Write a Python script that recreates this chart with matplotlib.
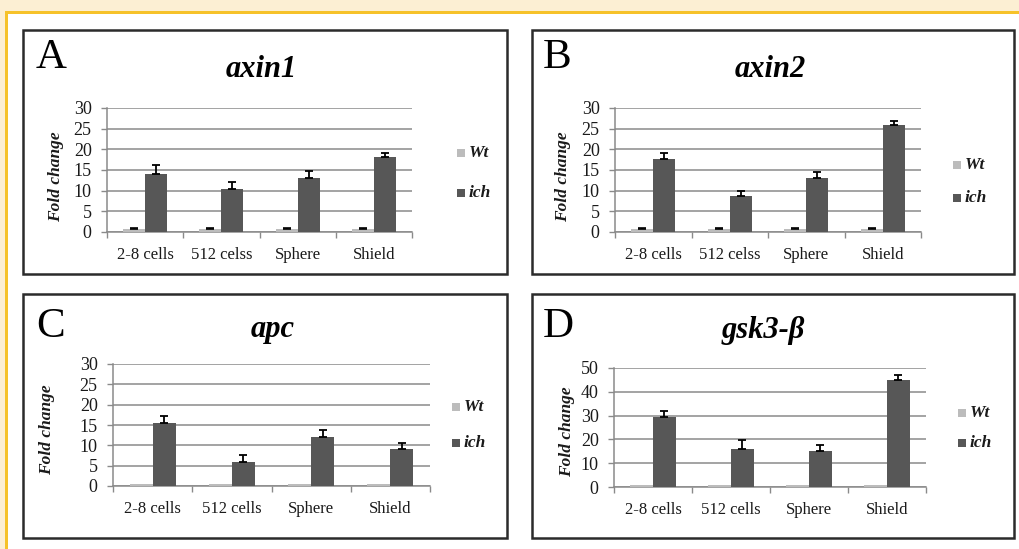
import numpy as np
import matplotlib
matplotlib.use("Agg")
import matplotlib.pyplot as plt
from matplotlib.patches import Rectangle

# ---------------- data ----------------
stages_ab = ["2-8 cells", "512 celss", "Sphere", "Shield"]
stages_cd = ["2-8 cells", "512 cells", "Sphere", "Shield"]

axin1_wt = [0.8, 0.8, 0.8, 0.8]
axin1_wt_err = [0.2, 0.2, 0.2, 0.2]
axin1_ich = [14.0, 10.3, 13.1, 18.1]
axin1_ich_err = [2.2, 1.7, 1.7, 0.9]

axin2_wt = [0.8, 0.8, 0.8, 0.8]
axin2_wt_err = [0.2, 0.2, 0.2, 0.2]
axin2_ich = [17.7, 8.7, 13.1, 26.0]
axin2_ich_err = [1.3, 1.3, 1.3, 0.9]

apc_wt = [0.6, 0.6, 0.6, 0.6]
apc_wt_err = [0.0, 0.0, 0.0, 0.0]
apc_ich = [15.4, 5.8, 12.0, 9.2]
apc_ich_err = [1.8, 1.9, 1.8, 1.3]

gsk_wt = [1.0, 1.0, 1.0, 1.0]
gsk_wt_err = [0.0, 0.0, 0.0, 0.0]
gsk_ich = [29.5, 16.0, 15.3, 45.1]
gsk_ich_err = [2.3, 3.6, 2.2, 2.1]

series_labels = ["Wt", "ich"]

# ---------------- style ----------------
W, H = 1019, 549
DPI = 100
SERIF = ["Liberation Serif", "DejaVu Serif"]
plt.rcParams["font.family"] = SERIF
WT_COLOR = "#bcbcbc"
ICH_COLOR = "#575757"
GRID = "#8a8a8a"
TXT = "#1a1a1a"

fig = plt.figure(figsize=(W / DPI, H / DPI), dpi=DPI)
fig.patch.set_facecolor("white")


def fx(px):
    return px / W


def fy(py):
    return 1 - py / H


def rect_px(x0, y0, x1, y1, **kw):
    fig.add_artist(Rectangle((fx(x0), fy(y1)), fx(x1) - fx(x0), fy(y0) - fy(y1),
                             transform=fig.transFigure, **kw))


# page background bands
rect_px(0, 0, W, 11, facecolor="#fcefd3", edgecolor="none", zorder=0)
rect_px(0, 0, 5, H, facecolor="#fcefd3", edgecolor="none", zorder=0)
rect_px(5, 11, W, 13.5, facecolor="#f6c22a", edgecolor="none", zorder=1)
rect_px(5, 11, 7.5, H, facecolor="#f6c22a", edgecolor="none", zorder=1)

panels = [
    dict(letter="A", title="axin1", cats=stages_ab, wt=axin1_wt, wte=axin1_wt_err,
         ich=axin1_ich, iche=axin1_ich_err, ymax=30, ystep=5,
         box=(23, 30, 507, 274), ax=(107, 108, 412, 232),
         letter_xy=(36, 68), title_xy=(261, 77), ylab_xy=(56, 177),
         leg=(461, 153, 193)),
    dict(letter="B", title="axin2", cats=stages_ab, wt=axin2_wt, wte=axin2_wt_err,
         ich=axin2_ich, iche=axin2_ich_err, ymax=30, ystep=5,
         box=(532, 30, 1014, 274), ax=(615, 108, 921, 232),
         letter_xy=(543, 68), title_xy=(770, 77), ylab_xy=(563, 177),
         leg=(957, 165, 198)),
    dict(letter="C", title="apc", cats=stages_cd, wt=apc_wt, wte=apc_wt_err,
         ich=apc_ich, iche=apc_ich_err, ymax=30, ystep=5,
         box=(23, 294, 507, 538), ax=(113, 364, 430, 486),
         letter_xy=(36, 337), title_xy=(273, 337), ylab_xy=(47, 430),
         leg=(456, 407, 443)),
    dict(letter="D", title="gsk3-β", cats=stages_cd, wt=gsk_wt, wte=gsk_wt_err,
         ich=gsk_ich, iche=gsk_ich_err, ymax=50, ystep=10,
         box=(532, 294, 1014, 538), ax=(614, 368, 926, 487),
         letter_xy=(543, 337), title_xy=(763, 338), ylab_xy=(567, 432),
         leg=(962, 413, 443)),
]

for p in panels:
    bx0, by0, bx1, by1 = p["box"]
    rect_px(bx0, by0, bx1, by1, facecolor="white", edgecolor="#2b2b2b",
            linewidth=1.8, zorder=2)

    ax0, ay0, ax1, ay1 = p["ax"]
    ax = fig.add_axes([fx(ax0), fy(ay1), fx(ax1) - fx(ax0), fy(ay0) - fy(ay1)])
    ax.set_zorder(3)
    ax.patch.set_alpha(0)

    x = np.arange(len(p["cats"]))
    bw = 0.29
    wt = np.array(p["wt"])
    wte = np.array(p["wte"])
    ich = np.array(p["ich"])
    iche = np.array(p["iche"])
    ax.bar(x - bw / 2, wt, width=bw, color=WT_COLOR, zorder=3)
    ax.bar(x + bw / 2, ich, width=bw, color=ICH_COLOR, zorder=3)
    m = wte > 0
    if m.any():
        ax.errorbar((x - bw / 2)[m], wt[m], yerr=[np.zeros(m.sum()), wte[m]], fmt="none",
                    ecolor="black", elinewidth=1.2, capsize=3, capthick=1.2, zorder=4)
    ax.errorbar(x + bw / 2, ich, yerr=[np.zeros(len(x)), iche], fmt="none",
                ecolor="black", elinewidth=1.3, capsize=3.2, capthick=1.3, zorder=4)

    ax.set_xlim(-0.5, len(x) - 0.5)
    ax.set_ylim(0, p["ymax"])
    ax.set_yticks(np.arange(0, p["ymax"] + 0.1, p["ystep"]))
    ax.set_xticks(x)
    ax.set_xticklabels(p["cats"])
    ax.set_xticks(np.arange(-0.5, len(x), 1.0), minor=True)
    ax.tick_params(axis="x", which="major", length=0, pad=11, labelsize=12, labelcolor=TXT)
    ax.tick_params(axis="x", which="minor", length=4, width=1, color=GRID, direction="out")
    ax.tick_params(axis="y", length=4, width=1, color=GRID, pad=7, labelsize=13,
                   labelcolor=TXT)
    ax.yaxis.grid(True, color=GRID, linewidth=1.1, zorder=0)
    ax.set_axisbelow(True)
    for s in ["top", "right"]:
        ax.spines[s].set_visible(False)
    for s in ["left", "bottom"]:
        ax.spines[s].set_color(GRID)
        ax.spines[s].set_linewidth(1.1)

    # panel texts
    lx, ly = p["letter_xy"]
    fig.text(fx(lx), fy(ly), p["letter"], fontsize=31, ha="left", va="baseline",
             color="black", zorder=5)
    tx, ty = p["title_xy"]
    fig.text(fx(tx), fy(ty), p["title"], fontsize=22, fontweight="bold",
             fontstyle="italic", ha="center", va="baseline", color="black", zorder=5)
    yx, yy = p["ylab_xy"]
    fig.text(fx(yx), fy(yy), "Fold change", fontsize=12.5, fontweight="bold",
             fontstyle="italic", rotation=90, ha="center", va="center", color=TXT,
             zorder=5)

    # legend
    gx, wy, iy = p["leg"]
    for yy_, col, lab in [(wy, WT_COLOR, series_labels[0]), (iy, ICH_COLOR, series_labels[1])]:
        rect_px(gx - 4, yy_ - 4, gx + 4, yy_ + 4, facecolor=col, edgecolor="none", zorder=5)
        fig.text(fx(gx + 8), fy(yy_), lab, fontsize=12.5, fontweight="bold",
                 fontstyle="italic", ha="left", va="center", color=TXT, zorder=5)

fig.savefig("out.png", dpi=DPI)
